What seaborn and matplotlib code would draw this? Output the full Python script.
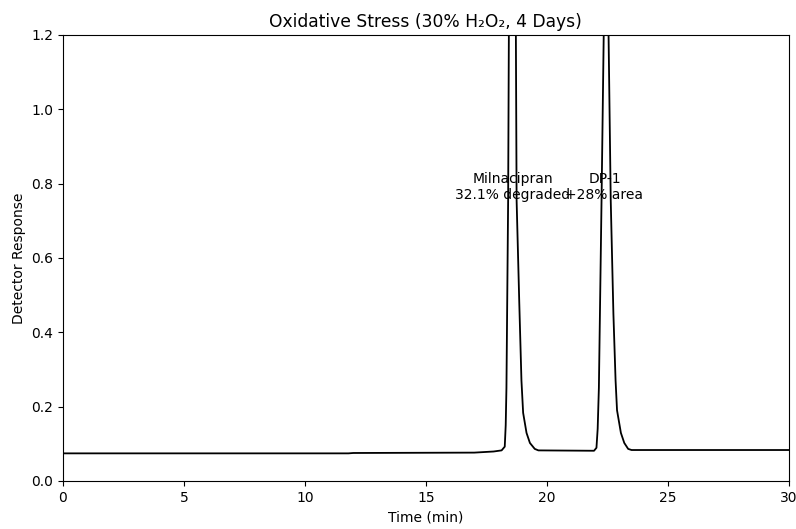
import matplotlib
matplotlib.use("Agg")
import matplotlib.pyplot as plt
import seaborn as sns
import pandas as pd

# Chromatogram trace (time in min, detector response)
time_min = [0.0, 11.8, 12.0, 17.0, 17.8, 18.13, 18.26, 18.30, 18.33, 18.40, 18.43,
            18.50, 18.57, 18.65, 18.72, 18.75, 18.86, 18.95, 19.02, 19.16, 19.30,
            19.50, 19.65, 21.95, 22.05, 22.10, 22.15, 22.26, 22.35, 22.40, 22.45,
            22.50, 22.55, 22.64, 22.75, 22.84, 22.90, 23.06, 23.20, 23.36, 23.50, 30.0]
response = [0.074, 0.074, 0.075, 0.076, 0.079, 0.082, 0.092, 0.15, 0.25, 0.755, 1.2,
            1.9, 2.2, 1.9, 1.2, 0.755, 0.48, 0.27, 0.183, 0.129, 0.102,
            0.086, 0.082, 0.081, 0.089, 0.14, 0.25, 0.755, 1.2, 1.6, 1.7,
            1.6, 1.2, 0.755, 0.45, 0.27, 0.19, 0.129, 0.102, 0.086, 0.083, 0.083]

peak_labels = ["Milnacipran\n32.1% degraded", "DP-1\n+28% area"]
peak_times = [18.58, 22.38]
label_y = 0.75

title = "Oxidative Stress (30% H\u2082O\u2082, 4 Days)"

df = pd.DataFrame({"Time (min)": time_min, "Detector Response": response})

fig, ax = plt.subplots(figsize=(7.96, 5.29), dpi=100)
fig.subplots_adjust(left=0.079, right=0.991, top=0.934, bottom=0.091)

sns.lineplot(data=df, x="Time (min)", y="Detector Response", ax=ax,
             color="black", linewidth=1.3, estimator=None, sort=False)

for lab, t in zip(peak_labels, peak_times):
    ax.text(t, label_y, lab, ha="center", va="bottom", fontsize=10)

ax.set_xlim(0, 30)
ax.set_ylim(0, 1.2)
ax.set_xticks([0, 5, 10, 15, 20, 25, 30])
ax.set_yticks([0.0, 0.2, 0.4, 0.6, 0.8, 1.0, 1.2])
ax.set_title(title, fontsize=12.3)
ax.set_xlabel("Time (min)")
ax.set_ylabel("Detector Response")

fig.savefig("out.png", dpi=100)
